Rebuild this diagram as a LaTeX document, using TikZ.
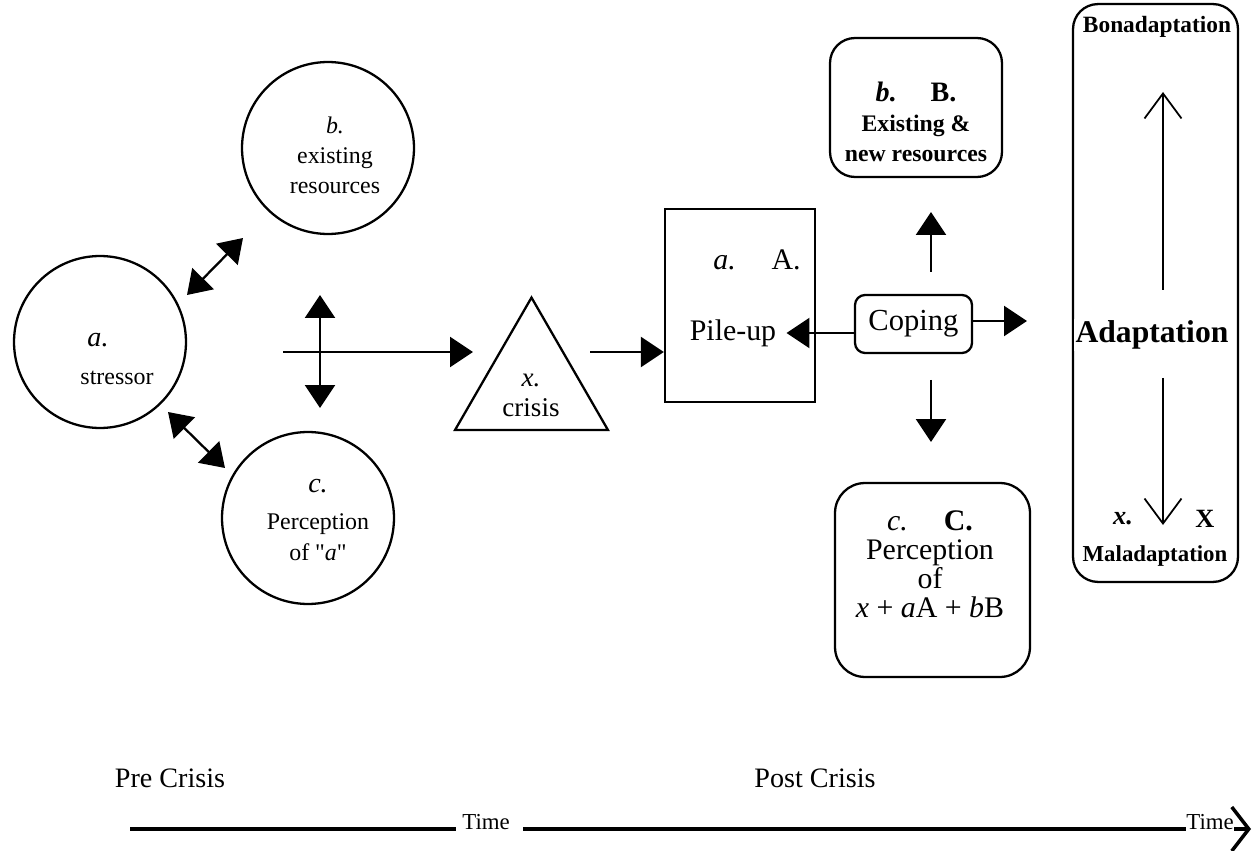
\documentclass[tikz,border=0pt]{standalone}
\usepackage{fontspec}
\setmainfont{Liberation Serif}
\usetikzlibrary{arrows.meta,shapes.geometric}

\tikzset{
  bubble/.style={draw, circle, line width=1.3pt, minimum size=3.44cm, inner sep=0pt},
  sqbox/.style={draw, line width=1.3pt, inner sep=0pt},
  rbox/.style={draw, line width=1.3pt, inner sep=0pt, rounded corners=#1},
  fat/.style={line width=1.3pt, -{Triangle[length=0.46cm,width=0.6cm]}},
  dbl/.style={line width=1.3pt, {Triangle[length=0.46cm,width=0.6cm]}-{Triangle[length=0.46cm,width=0.6cm]}},
  barb/.style={line width=1pt, -{Straight Barb[length=0.5cm,width=0.74cm]}},
  txt/.style={inner sep=0pt, align=center},
  timeline/.style={line width=2pt}
}

\begin{document}
\begin{tikzpicture}[x=0.02cm, y=-0.02cm]
\useasboundingbox (0,0) rectangle (1252,851);

% pre crisis circles
\node[bubble] (sa) at (100,342) {};
\node[bubble] (sb) at (328,148) {};
\node[bubble] (sc) at (308,518) {};
\node[txt, font=\fontsize{16}{18}\selectfont\itshape] (la1) at (98,340) {a.};
\node[txt, font=\fontsize{13.6}{16}\selectfont] (la2) at (117,378) {stressor};
\node[txt, font=\fontsize{13.6}{17}\selectfont] (lb) at (335,155) {\textit{b.}\\existing\\resources};
\node[txt, font=\fontsize{13.6}{18}\selectfont] (lc) at (318,520)
  {{\fontsize{16}{18}\selectfont\textit{c.}}\\[3pt]Perception\\of \textquotedbl\textit{a}\textquotedbl};

% links between the circles
\coordinate (ab1) at (187,295);
\coordinate (ab2) at (243,238);
\coordinate (ac1) at (168,412);
\coordinate (ac2) at (225,468);
\draw[dbl] (ab1) -- (ab2);
\draw[dbl] (ac1) -- (ac2);
\coordinate (vt) at (320,295);
\coordinate (vb) at (320,408);
\coordinate (hl) at (283,352);
\coordinate (hr) at (473,352);
\draw[dbl] (vt) -- (vb);
\draw[fat] (hl) -- (hr);

% crisis and pile-up
\node[draw, regular polygon, regular polygon sides=3, minimum size=3.53cm,
  inner sep=0pt, line width=1.3pt] (tri) at (531.5,385.8) {};
\node[txt, font=\fontsize{15.4}{17}\selectfont] (lx) at (531,395) {\textit{x.}\\crisis};
\node[sqbox, minimum width=3cm, minimum height=3.86cm] (pile) at (740,305.5) {};
\coordinate (tout) at (590,352);
\draw[fat] (tout) -- (tout -| pile.west);
\node[txt, font=\fontsize{17}{20}\selectfont] (pa) at (757,260) {\textit{a.}\hspace{1.2em}A.};
\node[font=\fontsize{17}{20}\selectfont, inner sep=0.2cm] (pu) at (733,333) {Pile-up};

% coping
\node[rbox=0.2cm, minimum width=2.34cm, minimum height=1.16cm,
  font=\fontsize{17.4}{20}\selectfont] (cope) at (913.5,324) {Coping};
\draw[fat] (cope.west |- pu.east) -- (pu.east);
\coordinate (cu1) at (931,272);
\coordinate (cu2) at (931,212);
\coordinate (cd1) at (931,380);
\coordinate (cd2) at (931,442);
\draw[fat] (cu1) -- (cu2);
\draw[fat] (cd1) -- (cd2);
\coordinate (cin) at (1027,321);
\draw[fat] (cope.east |- cin) -- (cin);

% resources box
\node[rbox=0.5cm, minimum width=3.44cm, minimum height=2.78cm] (res) at (916,107.5) {};
\node[txt, font=\fontsize{13.5}{17}\selectfont\bfseries] (lres) at (916,122)
  {{\fontsize{16}{18}\selectfont\textit{b.}\hspace{1.2em}B.}\\Existing \&\\new resources};

% perception box
\node[rbox=0.6cm, minimum width=3.9cm, minimum height=3.88cm] (perc) at (932.5,580) {};
\node[txt, font=\fontsize{17}{16.5}\selectfont] (lperc) at (930,564.5)
  {\textit{c.}\hspace{1.2em}\textbf{C.}\\Perception\\of\\\textit{x} + \textit{a}A + \textit{b}B};

% adaptation box
\node[rbox=0.5cm, minimum width=3.3cm, minimum height=11.56cm] (adap) at (1155.5,293) {};
\node[txt, font=\fontsize{13.3}{16}\selectfont\bfseries] (bon) at (1157,27) {Bonadaptation};
\node[font=\fontsize{18}{20}\selectfont\bfseries, fill=white, inner sep=1pt] (ad) at (1152,335) {Adaptation};
\node[font=\fontsize{13}{15}\selectfont\bfseries, fill=white, inner sep=1pt] (mal) at (1155,556) {Maladaptation};
\node[txt, font=\fontsize{15}{17}\selectfont\bfseries\itshape] (mx) at (1123,519) {x.};
\node[txt, font=\fontsize{15}{17}\selectfont\bfseries] (mX) at (1205,519) {X};
\coordinate (upb) at (1163,290);
\coordinate (upt) at (1163,92);
\coordinate (dnt) at (1163,378);
\coordinate (dnb) at (1163,525);
\draw[barb] (upb) -- (upt);
\draw[barb] (dnt) -- (dnb);

% time axis
\node[font=\fontsize{16}{18}\selectfont] (pre) at (170,778) {Pre Crisis};
\node[font=\fontsize{16}{18}\selectfont] (post) at (815,778) {Post Crisis};
\coordinate (t1a) at (130,829);
\coordinate (t1b) at (456,829);
\node[anchor=base west, inner sep=0pt, font=\fontsize{13}{16}\selectfont] (time1) at (462,829) {Time};
\draw[timeline] (t1a) -- (t1b);
\coordinate (t2a) at (523,829);
\node[anchor=base west, inner sep=0pt, font=\fontsize{13}{16}\selectfont] (time2) at (1186,829) {Time};
\draw[timeline] (t2a) -- (time2.base west);
\coordinate (tend) at (1251,829);
\draw[timeline, -{Straight Barb[length=0.34cm,width=0.88cm]}] (time2.base east) -- (tend);
\end{tikzpicture}
\end{document}
